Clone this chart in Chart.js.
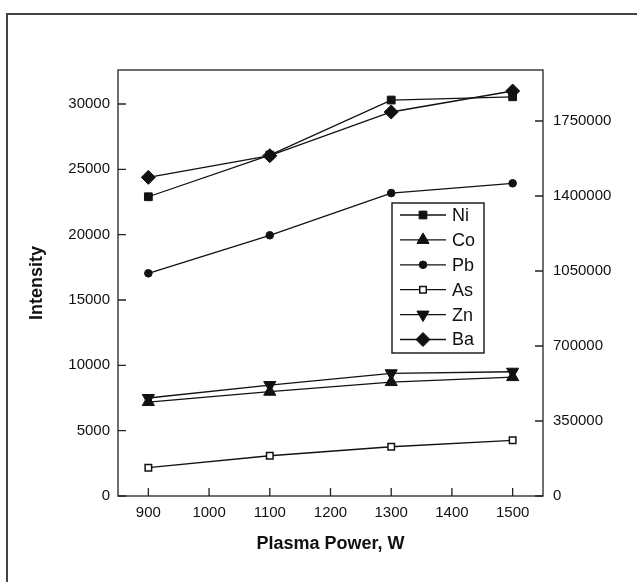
<!DOCTYPE html>
<html>
<head>
<meta charset="utf-8">
<script src="https://cdn.jsdelivr.net/npm/chart.js@4.4.1/dist/chart.umd.min.js"></script>
<style>
  html, body { margin: 0; padding: 0; background: #fff; }
  #wrap { position: relative; width: 637px; height: 582px; overflow: hidden; }
  #frame { position: absolute; left: 6px; top: 13px; width: 700px; height: 700px;
           border-left: 2px solid #444; border-top: 2px solid #444; }
  #chart { position: absolute; left: 0; top: 0; }
</style>
</head>
<body>
<div id="wrap">
  <div id="frame"></div>
  <canvas id="chart" width="637" height="582"></canvas>
</div>
<script>
// Plasma power settings (W)
const power = [900, 1100, 1300, 1500];

// Intensities (Ba on the right-hand axis)
const ni = [22900, 26090, 30300, 30550];
const co = [7190, 7980, 8720, 9100];
const pb = [17040, 19950, 23180, 23930];
const as = [2170, 3080, 3770, 4260];
const zn = [7500, 8490, 9390, 9510];
const ba = [1487000, 1588000, 1792000, 1890000];

// Tick labels
const xTicks = [900, 1000, 1100, 1200, 1300, 1400, 1500];
const leftTicks = [0, 5000, 10000, 15000, 20000, 25000, 30000];
const rightTicks = [0, 350000, 700000, 1050000, 1400000, 1750000];

const labels = ['Ni', 'Co', 'Pb', 'As', 'Zn', 'Ba'];

const ink = '#111';

function pts(values) {
  return values.map((v, i) => ({ x: power[i], y: v }));
}

function series(label, values, style, extra) {
  return Object.assign({
    label: label,
    data: pts(values),
    borderColor: ink,
    backgroundColor: ink,
    pointBackgroundColor: ink,
    pointBorderColor: ink,
    borderWidth: 1.3,
    pointBorderWidth: 1,
    pointStyle: style,
    yAxisID: 'y'
  }, extra);
}

const datasets = [
  series('Ni', ni, 'rect', { pointRadius: 5.5 }),
  series('Co', co, 'triangle', { pointRadius: 7 }),
  series('Pb', pb, 'circle', { pointRadius: 3.8 }),
  series('As', as, 'rect', { pointRadius: 4.6, pointBackgroundColor: '#fff', pointBorderWidth: 1.5 }),
  series('Zn', zn, 'triangle', { pointRadius: 7, pointRotation: 180 }),
  series('Ba', ba, 'rectRot', { pointRadius: 7, yAxisID: 'y1' })
];

// box round the plot + inward tick marks
const frameTicks = {
  id: 'frameTicks',
  afterDatasetsDraw(chart) {
    const { ctx, chartArea: a, scales } = chart;
    const len = 8;
    ctx.save();
    ctx.strokeStyle = '#222';
    ctx.lineWidth = 1.3;
    ctx.strokeRect(a.left, a.top, a.right - a.left, a.bottom - a.top);
    ctx.beginPath();
    scales.x.ticks.forEach(t => {
      const px = scales.x.getPixelForValue(t.value);
      ctx.moveTo(px, a.bottom);
      ctx.lineTo(px, a.bottom - len);
    });
    scales.y.ticks.forEach(t => {
      const py = scales.y.getPixelForValue(t.value);
      ctx.moveTo(a.left, py);
      ctx.lineTo(a.left + len, py);
    });
    scales.y1.ticks.forEach(t => {
      const py = scales.y1.getPixelForValue(t.value);
      ctx.moveTo(a.right, py);
      ctx.lineTo(a.right - len, py);
    });
    ctx.stroke();
    ctx.restore();
  }
};

// boxed legend inside the plot
const boxLegend = {
  id: 'boxLegend',
  afterDraw(chart) {
    const ctx = chart.ctx;
    const left = 392, top = 203, w = 92, h = 150;
    ctx.save();
    ctx.fillStyle = '#fff';
    ctx.fillRect(left, top, w, h);
    ctx.strokeStyle = '#222';
    ctx.lineWidth = 1.5;
    ctx.strokeRect(left, top, w, h);
    ctx.font = '18px "Liberation Sans", Arial, sans-serif';
    ctx.textBaseline = 'middle';
    chart.data.datasets.forEach((ds, i) => {
      const y = 215 + i * 24.9;
      ctx.strokeStyle = ink;
      ctx.lineWidth = 1.3;
      ctx.beginPath();
      ctx.moveTo(400, y);
      ctx.lineTo(446, y);
      ctx.stroke();
      ctx.fillStyle = ds.pointBackgroundColor;
      ctx.strokeStyle = ds.pointBorderColor;
      ctx.lineWidth = ds.pointBorderWidth;
      if (Chart.helpers && Chart.helpers.drawPoint) {
        Chart.helpers.drawPoint(ctx, {
          pointStyle: ds.pointStyle,
          rotation: ds.pointRotation || 0,
          radius: ds.pointRadius,
          borderWidth: ds.pointBorderWidth
        }, 423, y);
      }
      ctx.fillStyle = ink;
      ctx.fillText(labels[i], 452, y + 1);
    });
    ctx.restore();
  }
};

const tickFont = { family: '"Liberation Sans", Arial, sans-serif', size: 15 };
const titleFont = { family: '"Liberation Sans", Arial, sans-serif', size: 18, weight: 'bold' };

new Chart(document.getElementById('chart').getContext('2d'), {
  type: 'line',
  data: { datasets: datasets },
  options: {
    responsive: false,
    animation: false,
    layout: { padding: { top: 70, left: 0, right: 0, bottom: 0 } },
    plugins: { legend: { display: false }, tooltip: { enabled: false } },
    scales: {
      x: {
        type: 'linear',
        min: 850,
        max: 1550,
        grid: { display: false, drawTicks: false },
        border: { display: false },
        afterBuildTicks: s => { s.ticks = xTicks.map(v => ({ value: v })); },
        afterFit: s => { s.height = 86; },
        ticks: { color: ink, font: tickFont, padding: 8, maxRotation: 0, callback: v => String(v) },
        title: { display: true, text: 'Plasma Power, W', color: ink, font: titleFont, padding: { top: 0, bottom: 27 } }
      },
      y: {
        position: 'left',
        min: 0,
        max: 32600,
        grid: { display: false, drawTicks: false },
        border: { display: false },
        afterBuildTicks: s => { s.ticks = leftTicks.map(v => ({ value: v })); },
        afterFit: s => { s.width = 118; },
        ticks: { color: ink, font: tickFont, padding: 8, callback: v => String(v) },
        title: { display: true, text: 'Intensity', color: ink, font: titleFont, padding: { top: 26, bottom: 0 } }
      },
      y1: {
        position: 'right',
        min: 0,
        max: 1988000,
        grid: { display: false, drawTicks: false },
        border: { display: false },
        afterBuildTicks: s => { s.ticks = rightTicks.map(v => ({ value: v })); },
        afterFit: s => { s.width = 94; },
        ticks: { color: ink, font: tickFont, padding: 10, callback: v => String(v) }
      }
    }
  },
  plugins: [frameTicks, boxLegend]
});
</script>
</body>
</html>
